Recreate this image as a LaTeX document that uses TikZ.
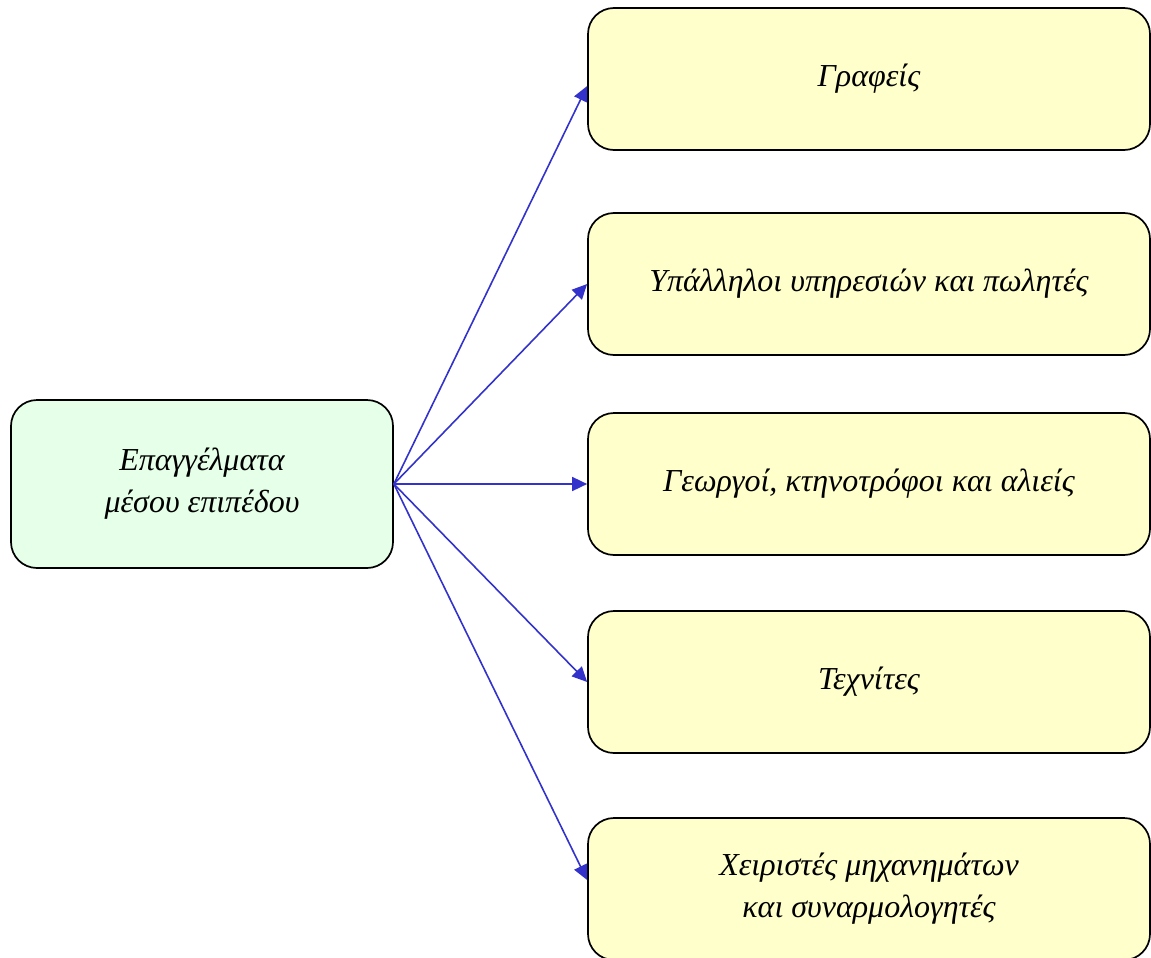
\documentclass[tikz,border=0pt]{standalone}
\usepackage{fontspec}
\setmainfont{Liberation Serif}
\usetikzlibrary{arrows.meta}
\definecolor{srcfill}{HTML}{E6FFE8}
\definecolor{dstfill}{HTML}{FFFFCC}
\definecolor{arrblue}{HTML}{3333CC}
\tikzset{
  box/.style={draw=black, line width=1.7pt, rounded corners=26pt, align=center,
    font=\fontsize{32}{42}\selectfont\itshape, inner sep=0pt},
  srcbox/.style={box, fill=srcfill, minimum width=382pt, minimum height=168pt},
  dstbox/.style={box, fill=dstfill, minimum width=562pt, minimum height=142pt},
  conn/.style={draw=arrblue, line width=1.6pt, -{Triangle[length=15pt,width=14pt]}}
}
\begin{document}
\begin{tikzpicture}[x=1pt,y=-1pt]
\useasboundingbox (0,0) rectangle (1151,958);
\node[srcbox] (src) at (202,484) {Επαγγέλματα\\μέσου επιπέδου};
\node[dstbox] (b1) at (869,79) {Γραφείς};
\node[dstbox] (b2) at (869,284) {Υπάλληλοι υπηρεσιών και πωλητές};
\node[dstbox] (b3) at (869,484) {Γεωργοί, κτηνοτρόφοι και αλιείς};
\node[dstbox] (b4) at (869,682) {Τεχνίτες};
\node[dstbox] (b5) at (869,889) {Χειριστές μηχανημάτων\\και συναρμολογητές};
\draw[conn] (src.east) -- ([yshift=-7pt]b1.west);
\draw[conn] (src.east) -- (b2.west);
\draw[conn] (src.east) -- (b3.west);
\draw[conn] (src.east) -- (b4.west);
\draw[conn] (src.east) -- ([yshift=9pt]b5.west);
\end{tikzpicture}
\end{document}
